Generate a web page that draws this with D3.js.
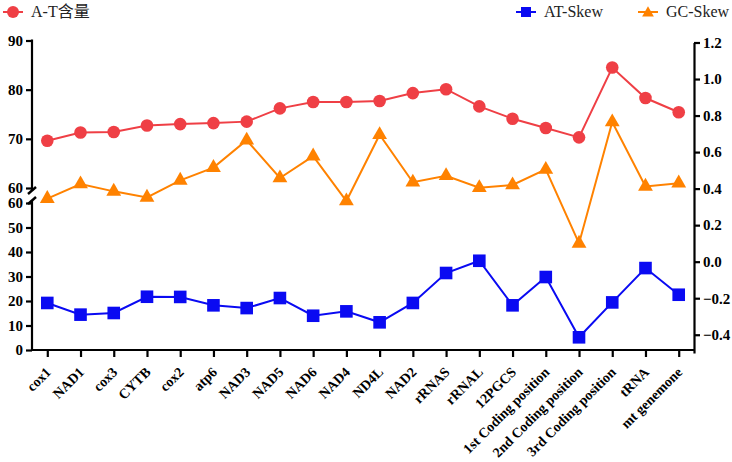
<!DOCTYPE html>
<html>
<head>
<meta charset="utf-8">
<script src="https://cdn.jsdelivr.net/npm/d3@7"></script>
<style>
  body { margin: 0; background: #fff; }
  svg { display: block; font-family: "Liberation Serif", "Times New Roman", "Noto Sans CJK SC", serif; }
</style>
</head>
<body>
<div id="chart"></div>
<script>
// categorias
const categories = ["cox1", "NAD1", "cox3", "CYTB", "cox2", "atp6", "NAD3", "NAD5", "NAD6", "NAD4",
  "ND4L", "NAD2", "rRNAS", "rRNAL", "12PGCS", "1st Coding position", "2nd Coding position",
  "3rd Coding position", "tRNA", "mt genemone"]

// A-T含量 (eje izquierdo)
const atContent = [69.6, 71.3, 71.4, 72.7, 73.0, 73.2, 73.5, 76.2, 77.5, 77.5,
  77.7, 79.3, 80.1, 76.6, 74.1, 72.2, 70.3, 84.5, 78.3, 75.4]

// AT-Skew (eje derecho)
const atSkew = [-0.226, -0.29, -0.281, -0.192, -0.193, -0.239, -0.254, -0.199, -0.296, -0.272,
  -0.332, -0.226, -0.062, 0.005, -0.239, -0.084, -0.414, -0.223, -0.035, -0.181]

// GC-Skew (eje derecho)
const gcSkew = [0.345, 0.425, 0.385, 0.352, 0.445, 0.515, 0.665, 0.458, 0.578, 0.332,
  0.695, 0.435, 0.47, 0.405, 0.42, 0.505, 0.1, 0.765, 0.412, 0.43]

const leftTopTicks = [60, 70, 80, 90]
const leftBottomTicks = [0, 10, 20, 30, 40, 50, 60]
const rightTicks = [-0.4, -0.2, 0, 0.2, 0.4, 0.6, 0.8, 1.0, 1.2]

const width = 732, height = 462
const colors = { at: "#ef3f45", atSkew: "#0a0af2", gcSkew: "#ff8200" }

const svg = d3.select("#chart").append("svg")
  .attr("width", width).attr("height", height)

const x = d3.scalePoint().domain(categories).range([32, 694]).padding(0.46)

// eje izquierdo partido
const yTop = d3.scaleLinear().domain([60, 90]).range([188, 40.5])
const yBot = d3.scaleLinear().domain([0, 60]).range([350, 203])
const yR = d3.scaleLinear().domain([-0.5, 1.2]).range([353, 42.5])

const tickFont = g => g.selectAll("text")
  .attr("font-family", "Liberation Serif, Times New Roman, serif")
  .attr("font-weight", "bold").attr("font-size", 15).attr("fill", "#000")
const axisStyle = g => {
  g.selectAll("line, path").attr("stroke", "#000").attr("stroke-width", 2.2)
  tickFont(g)
}

svg.append("g").attr("transform", "translate(32,0)")
  .call(d3.axisLeft(yTop).tickValues(leftTopTicks).tickSize(6).tickSizeOuter(0).tickPadding(3))
  .call(axisStyle)
  .call(g => g.select(".domain").attr("d", `M0,${yTop(90) - 1}V191`))

svg.append("g").attr("transform", "translate(32,0)")
  .call(d3.axisLeft(yBot).tickValues(leftBottomTicks).tickSize(6).tickSizeOuter(0).tickPadding(3))
  .call(axisStyle)
  .call(g => g.select(".domain").attr("d", `M0,200V351`))

// marcas del corte
svg.append("g").selectAll("line")
  .data([191, 201])
  .join("line")
  .attr("x1", 28).attr("x2", 36)
  .attr("y1", d => d + 3).attr("y2", d => d - 4)
  .attr("stroke", "#000").attr("stroke-width", 2.4)

svg.append("g").attr("transform", "translate(694,0)")
  .call(d3.axisRight(yR).tickValues(rightTicks).tickSize(6).tickSizeOuter(0).tickPadding(3)
    .tickFormat(d3.format(".1f")))
  .call(axisStyle)

svg.append("g").attr("transform", "translate(0,350)")
  .call(d3.axisBottom(x).tickSize(7).tickSizeOuter(0))
  .call(axisStyle)
  .call(g => g.select(".domain").attr("d", "M31,0H695"))
  .call(g => g.selectAll(".tick text")
    .attr("text-anchor", "end")
    .attr("font-size", 14)
    .attr("y", 0).attr("dy", 0)
    .attr("transform", "translate(4,23) rotate(-45)"))

// lineas
const series = [
  { values: atContent, y: yTop, color: colors.at, shape: "circle" },
  { values: gcSkew, y: yR, color: colors.gcSkew, shape: "triangle" },
  { values: atSkew, y: yR, color: colors.atSkew, shape: "square" }
]

const tri = d3.symbol().type(d3.symbolTriangle).size(95)

series.forEach(s => {
  const pts = categories.map((c, i) => [x(c), s.y(s.values[i])])
  svg.append("path")
    .attr("d", d3.line()(pts))
    .attr("fill", "none").attr("stroke", s.color).attr("stroke-width", 2)

  const g = svg.append("g").attr("fill", s.color)
  if (s.shape === "circle") {
    g.selectAll("circle").data(pts).join("circle")
      .attr("cx", d => d[0]).attr("cy", d => d[1]).attr("r", 6.3)
  } else if (s.shape === "square") {
    g.selectAll("rect").data(pts).join("rect")
      .attr("x", d => d[0] - 6.3).attr("y", d => d[1] - 6.3)
      .attr("width", 12.6).attr("height", 12.6)
  } else {
    g.selectAll("path").data(pts).join("path")
      .attr("d", tri)
      .attr("transform", d => `translate(${d[0]},${d[1]})`)
  }
})

// leyenda
const legend = svg.append("g").attr("font-size", 16)
const legendItems = [
  { label: "A-T含量", color: colors.at, shape: "circle", x: 3 },
  { label: "AT-Skew", color: colors.atSkew, shape: "square", x: 516 },
  { label: "GC-Skew", color: colors.gcSkew, shape: "triangle", x: 638 }
]
legendItems.forEach(d => {
  const cy = 12
  legend.append("line")
    .attr("x1", d.x).attr("x2", d.x + 20).attr("y1", cy).attr("y2", cy)
    .attr("stroke", d.color).attr("stroke-width", 2)
  if (d.shape === "circle") {
    legend.append("circle").attr("cx", d.x + 10).attr("cy", cy).attr("r", 6).attr("fill", d.color)
  } else if (d.shape === "square") {
    legend.append("rect").attr("x", d.x + 5).attr("y", cy - 5).attr("width", 10).attr("height", 10).attr("fill", d.color)
  } else {
    legend.append("path").attr("d", d3.symbol().type(d3.symbolTriangle).size(60)())
      .attr("transform", `translate(${d.x + 10},${cy + 1})`).attr("fill", d.color)
  }
  legend.append("text")
    .attr("x", d.x + 28).attr("y", cy + 5)
    .attr("fill", "#222")
    .text(d.label)
})
</script>
</body>
</html>
